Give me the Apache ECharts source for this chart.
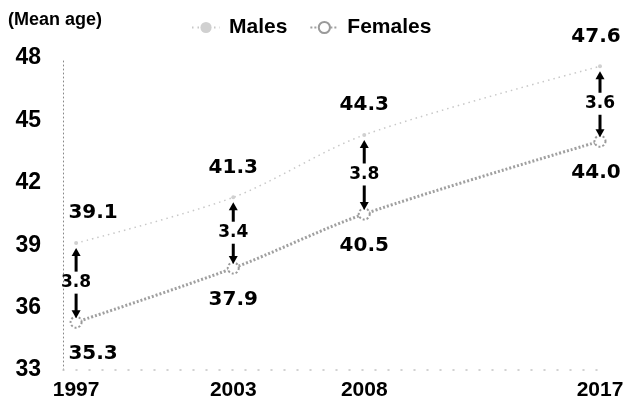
<!DOCTYPE html>
<html>
<head>
<meta charset="utf-8">
<script src="https://cdn.jsdelivr.net/npm/echarts@6/dist/echarts.min.js"></script>
<style>
  html, body { margin: 0; padding: 0; background: #fff; }
  #chart { width: 623px; height: 407px; }
</style>
</head>
<body>
<div id="chart"></div>
<script>
// Mean age by sex, survey years
const years = [1997, 2003, 2008, 2017];
const males = [39.1, 41.3, 44.3, 47.6];
const females = [35.3, 37.9, 40.5, 44.0];
const yTicks = [33, 36, 39, 42, 45, 48];
const seriesNames = ['Males', 'Females'];
const unitLabel = '(Mean age)';

const axisFont = '"Liberation Sans", Arial, sans-serif';
const valueFont = '"DejaVu Sans", sans-serif';

// nudge edge labels so they stay clear of the axis / canvas edge
function labelOffset(i) {
  if (i === 0) return [17, 0];
  if (i === years.length - 1) return [-4, 0];
  return [0, 0];
}

const maleData = years.map((y, i) => ({ value: [y, males[i]], label: { offset: labelOffset(i) } }));
const femaleData = years.map((y, i) => ({ value: [y, females[i]], label: { offset: labelOffset(i) } }));
const gapData = years.map((y, i) => [y, males[i], females[i]]);

// double arrow between the two series with the age gap in the middle
function renderGap(params, api) {
  const x = api.value(0);
  const top = api.coord([x, api.value(1)]);
  const bot = api.coord([x, api.value(2)]);
  const cx = top[0];
  const mid = (top[1] + bot[1]) / 2;
  const tipUp = top[1] + 5;
  const tipDown = bot[1] - 4;
  const tailUp = mid - 11;
  const tailDown = mid + 11;
  const head = 8, hw = 4.5;
  const diff = (api.value(1) - api.value(2)).toFixed(1);
  const shaft = { stroke: '#000', lineWidth: 3 };
  return {
    type: 'group',
    children: [
      { type: 'line', shape: { x1: cx, y1: tailUp, x2: cx, y2: tipUp + head - 1 }, style: shaft },
      { type: 'polygon', shape: { points: [[cx - hw, tipUp + head], [cx + hw, tipUp + head], [cx, tipUp]] }, style: { fill: '#000' } },
      { type: 'line', shape: { x1: cx, y1: tailDown, x2: cx, y2: tipDown - head + 1 }, style: shaft },
      { type: 'polygon', shape: { points: [[cx - hw, tipDown - head], [cx + hw, tipDown - head], [cx, tipDown]] }, style: { fill: '#000' } },
      { type: 'text', style: { text: diff, x: cx, y: mid, align: 'center', verticalAlign: 'middle',
          fontFamily: valueFont, fontWeight: 'bold', fontSize: 17, fill: '#000' } }
    ]
  };
}

const chart = echarts.init(document.getElementById('chart'), null, { renderer: 'canvas' });
chart.setOption({
  animation: false,
  backgroundColor: '#fff',
  title: {
    text: unitLabel,
    left: 3, top: 6,
    textStyle: { fontFamily: axisFont, fontWeight: 'bold', fontSize: 18, color: '#000', letterSpacing: -0.6 }
  },
  legend: {
    data: seriesNames,
    left: 186, top: 12,
    itemWidth: 28, itemHeight: 14, itemGap: 22,
    textStyle: { fontFamily: axisFont, fontWeight: 'bold', fontSize: 21, color: '#000', padding: [0, 0, 0, 4] }
  },
  grid: { left: 63, right: 23, top: 58, bottom: 37, outerBoundsMode: 'none' },
  xAxis: {
    type: 'value',
    min: 1996.5, max: 2017,
    axisLine: { show: true, lineStyle: { color: '#c4c4c4', type: [1, 12], width: 1.5 } },
    axisTick: { show: false },
    splitLine: { show: false },
    axisLabel: {
      customValues: years,
      formatter: v => String(v),
      margin: 10,
      fontFamily: axisFont, fontWeight: 'bold', fontSize: 21, color: '#000', letterSpacing: -1
    }
  },
  yAxis: {
    type: 'value',
    min: 33, max: 48, interval: 3,
    axisLine: { show: true, lineStyle: { color: '#888', type: [1, 3], width: 1 } },
    axisTick: { show: false },
    splitLine: { show: false },
    axisLabel: {
      customValues: yTicks,
      margin: 22,
      fontFamily: axisFont, fontWeight: 'bold', fontSize: 23, color: '#000', letterSpacing: -1
    }
  },
  series: [
    {
      name: seriesNames[0],
      type: 'line',
      data: maleData,
      smooth: 0.3,
      symbol: 'circle', symbolSize: 4,
      itemStyle: { color: '#d0d0d0' },
      lineStyle: { color: '#c8c8c8', width: 1.5, type: [1.5, 4] },
      label: {
        show: true, position: 'top', distance: 18,
        formatter: p => p.value[1].toFixed(1),
        fontFamily: valueFont, fontWeight: 'bold', fontSize: 20, color: '#000'
      },
      z: 2
    },
    {
      name: seriesNames[1],
      type: 'line',
      data: femaleData,
      smooth: 0.3,
      symbol: 'emptyCircle', symbolSize: 11,
      itemStyle: { color: '#9a9a9a', borderColor: '#9a9a9a', borderWidth: 1.5, borderType: [2, 2] },
      lineStyle: { color: '#a0a0a0', width: 3, type: [2, 2] },
      label: {
        show: true, position: 'bottom', distance: 15,
        formatter: p => p.value[1].toFixed(1),
        fontFamily: valueFont, fontWeight: 'bold', fontSize: 20, color: '#000'
      },
      z: 3
    },
    {
      type: 'custom',
      silent: true,
      data: gapData,
      encode: { x: 0, y: [1, 2] },
      renderItem: renderGap,
      z: 4
    }
  ]
});
</script>
</body>
</html>
